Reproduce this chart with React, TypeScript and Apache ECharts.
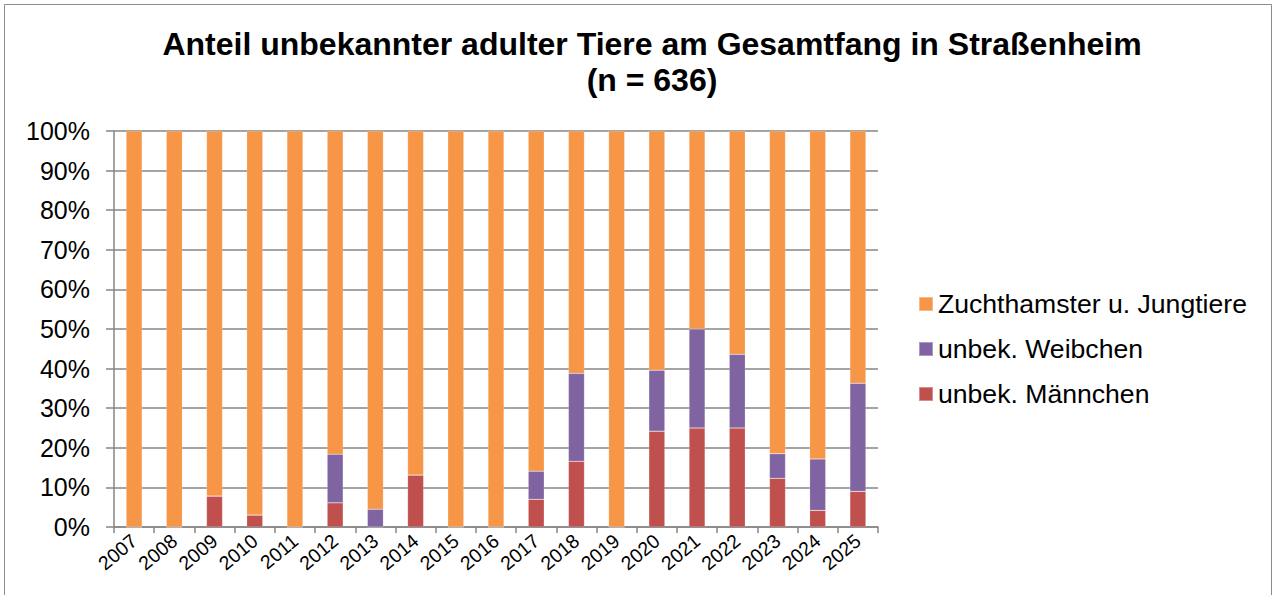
import React, { useEffect, useRef } from "react";
import * as echarts from "echarts";

const years = ["2007", "2008", "2009", "2010", "2011", "2012", "2013", "2014", "2015", "2016", "2017", "2018", "2019", "2020", "2021", "2022", "2023", "2024", "2025"];
const maleUnknown = [0, 0, 7.8, 3.0, 0, 6.1, 0, 13.1, 0, 0, 7.0, 16.6, 0, 24.2, 25, 25, 12.3, 4.2, 9.0];
const femaleUnknown = [0, 0, 0, 0, 0, 12.3, 4.5, 0, 0, 0, 7.1, 22.2, 0, 15.4, 25, 18.6, 6.2, 13.0, 27.3];
const breedersAndYoung = [100, 100, 92.2, 97, 100, 81.6, 95.5, 86.9, 100, 100, 85.9, 61.2, 100, 60.4, 50, 56.4, 81.5, 82.8, 63.7];

const seriesNames = ["unbek. Männchen", "unbek. Weibchen", "Zuchthamster u. Jungtiere"];
const legendOrder = ["Zuchthamster u. Jungtiere", "unbek. Weibchen", "unbek. Männchen"];
const titleText = "Anteil unbekannter adulter Tiere am Gesamtfang in Straßenheim\n(n = 636)";

export default function App() {
  const ref = useRef<HTMLDivElement>(null);
  useEffect(() => {
    if (!ref.current) return;
    const chart = echarts.init(ref.current, null, { renderer: "svg" });
    const font = "'Liberation Sans', Arial, sans-serif";
    const grey = "#868686";
    const colors = ["#C0504D", "#8064A2", "#F79646"];
    const dataSets = [maleUnknown, femaleUnknown, breedersAndYoung];
    chart.setOption({
      animation: false,
      backgroundColor: "#ffffff",
      textStyle: { fontFamily: font },
      title: {
        text: titleText,
        left: 647,
        top: 21,
        textAlign: "center",
        textVerticalAlign: "top",
        textStyle: { fontFamily: font, fontSize: 32, fontWeight: "bold", color: "#000", lineHeight: 36 },
      },
      legend: {
        orient: "vertical",
        left: 913,
        top: 285,
        itemWidth: 14,
        itemHeight: 14,
        itemGap: 17,
        icon: "rect",
        data: legendOrder,
        textStyle: { fontFamily: font, fontSize: 26.6, lineHeight: 28, color: "#000" },
      },
      grid: { left: 114, right: 397, top: 131, bottom: 68, containLabel: false },
      xAxis: {
        type: "category",
        data: years,
        boundaryGap: true,
        axisLine: { show: true, lineStyle: { color: grey, width: 1.5 } },
        axisTick: { show: true, length: 6, alignWithLabel: false, lineStyle: { color: grey, width: 1.5 } },
        axisLabel: { rotate: 40, margin: 11, fontSize: 19.5, color: "#000", fontFamily: font, interval: 0 },
      },
      yAxis: {
        type: "value",
        min: 0,
        max: 100,
        interval: 10,
        axisLine: { show: true, lineStyle: { color: grey, width: 1.5 } },
        axisTick: { show: true, length: 8, lineStyle: { color: grey, width: 1.5 } },
        splitLine: { show: true, lineStyle: { color: grey, width: 1.5 } },
        axisLabel: { formatter: "{value}%", margin: 24, fontSize: 25, color: "#000", fontFamily: font },
      },
      graphic: [
        {
          type: "rect",
          shape: { x: 4.5, y: 4.5, width: 1267, height: 610 },
          style: { fill: "none", stroke: "#8c8c8c", lineWidth: 1 },
          silent: true,
          z: 100,
        },
      ],
      series: seriesNames.map((name, i) => ({
        name,
        type: "bar",
        stack: "total",
        barWidth: 16,
        data: dataSets[i],
        itemStyle: { color: colors[i], borderColor: "rgba(255,255,255,0.35)", borderWidth: 0.5 },
      })),
    });
    return () => chart.dispose();
  }, []);
  return <div ref={ref} style={{ position: "fixed", left: 0, top: 0, width: 1275, height: 595 }} />;
}
